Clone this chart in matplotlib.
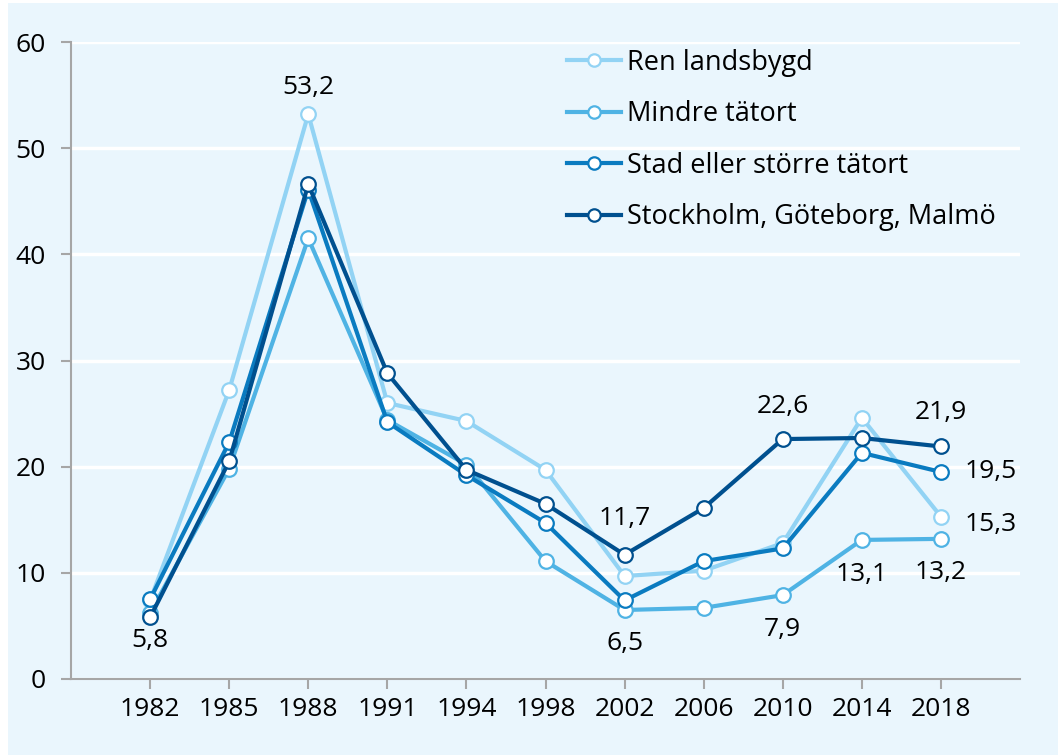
import matplotlib.pyplot as plt
from matplotlib.patches import Rectangle

# Données
annees = ["1982", "1985", "1988", "1991", "1994", "1998", "2002", "2006", "2010", "2014", "2018"]
ren_landsbygd = [7.4, 27.2, 53.2, 26.0, 24.3, 19.7, 9.7, 10.2, 12.8, 24.6, 15.3]
mindre_tatort = [6.2, 19.8, 41.5, 24.4, 20.2, 11.1, 6.5, 6.7, 7.9, 13.1, 13.2]
stad_tatort = [7.5, 22.3, 46.1, 24.2, 19.2, 14.7, 7.4, 11.1, 12.3, 21.3, 19.5]
storstad = [5.8, 20.5, 46.6, 28.8, 19.7, 16.5, 11.7, 16.1, 22.6, 22.7, 21.9]

series = [
    ("Ren landsbygd", ren_landsbygd, "#92D3F4"),
    ("Mindre tätort", mindre_tatort, "#4FB3E4"),
    ("Stad eller större tätort", stad_tatort, "#0A7BC0"),
    ("Stockholm, Göteborg, Malmö", storstad, "#00508F"),
]

# (serie, index, texte, decalage en pixels)
etiquettes = [
    (0, 2, "53,2", (0, 27)),
    (3, 0, "5,8", (0, -23)),
    (3, 6, "11,7", (0, 36)),
    (1, 6, "6,5", (0, -34)),
    (1, 8, "7,9", (0, -34)),
    (3, 8, "22,6", (0, 33)),
    (1, 9, "13,1", (0, -35)),
    (1, 10, "13,2", (0, -34)),
    (3, 10, "21,9", (0, 34)),
    (2, 10, "19,5", (50, 0)),
    (0, 10, "15,3", (50, -8)),
]

bg = "#EAF6FD"
taille = 19
plt.rcParams['font.family'] = ['Open Sans', 'DejaVu Sans']

fig = plt.figure(figsize=(10.58, 7.55), dpi=100, facecolor="white")
fig.patches.append(Rectangle((8 / 1058, 0), 1, 1 - 3 / 755, transform=fig.transFigure,
                             facecolor=bg, edgecolor="none", zorder=-10))
ax = fig.add_axes([71 / 1058, 76 / 755, 949 / 1058, 637 / 755])
ax.set_facecolor(bg)

x = list(range(len(annees)))
for nom, valeurs, couleur in series:
    ax.plot(x, valeurs, color=couleur, linewidth=3, marker="o", markersize=10.5,
            markerfacecolor="white", markeredgecolor=couleur, markeredgewidth=1.6,
            label=nom, zorder=3)

for s, i, texte, dec in etiquettes:
    ax.annotate(texte, (x[i], series[s][1][i]), xytext=dec, textcoords="offset pixels",
                ha="center", va="center", fontsize=taille, color="black")

ax.set_xlim(-1, 11)
ax.set_ylim(0, 60)
ax.set_yticks(range(0, 61, 10))
ax.set_xticks(x)
ax.set_xticklabels(annees)
ax.tick_params(axis="both", labelsize=taille, color="#A6A6A6", length=7, width=1.5, pad=6)
ax.tick_params(axis="y", pad=11)
ax.grid(True, axis="y", color="white", linewidth=2.5)
ax.set_axisbelow(True)
for cote in ["top", "right"]:
    ax.spines[cote].set_visible(False)
for cote in ["left", "bottom"]:
    ax.spines[cote].set_color("#A6A6A6")
    ax.spines[cote].set_linewidth(1.5)

leg = ax.legend(loc="upper right", bbox_to_anchor=(1.0, 1.028), frameon=False, fontsize=19.5,
                handlelength=2.0, handletextpad=0.2, labelspacing=0.87, markerscale=0.85)

plt.savefig("out.png", dpi=100, facecolor=fig.get_facecolor())
